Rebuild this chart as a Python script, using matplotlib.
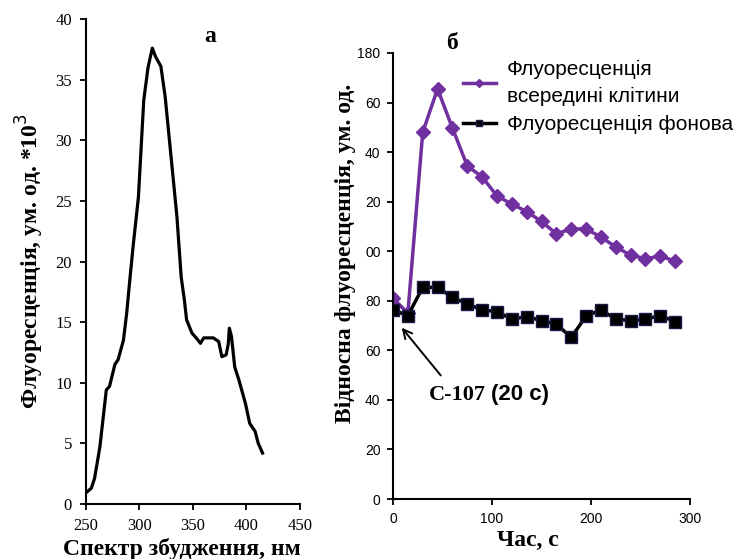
import matplotlib
matplotlib.use("Agg")
import matplotlib.pyplot as plt

# spectrum (panel a)
wl = [251, 255, 258, 263, 269, 272, 277, 280, 285, 288, 291, 294, 299, 304, 308, 312,
      315, 320, 324, 328, 335, 339, 342, 344, 349, 353, 357, 360, 365, 369, 374, 377,
      381, 383, 384, 386, 389, 393, 399, 403, 408, 411, 415]
intens = [1.0, 1.3, 2.1, 4.7, 9.4, 9.7, 11.5, 11.9, 13.5, 15.7, 18.5, 21.2, 25.3, 33.3, 36.0, 37.6,
          36.9, 36.1, 33.6, 30.0, 23.7, 18.7, 16.8, 15.2, 14.1, 13.7, 13.25, 13.7, 13.7, 13.7, 13.4, 12.15,
          12.3, 13.2, 14.5, 13.8, 11.3, 10.2, 8.3, 6.65, 6.0, 5.0, 4.2]

# time course (panel b)
t = [0, 15, 30, 45, 60, 75, 90, 105, 120, 135, 150, 165, 180, 195, 210, 225, 240, 255, 270, 285]
inside = [81, 75, 148, 165.5, 149.7, 134.4, 130, 122.3, 119, 116, 112, 107, 109, 109, 105.7,
          101.7, 98.4, 97, 98, 96]
backgr = [76.3, 74, 85.4, 85.4, 81.4, 78.7, 76.3, 75.6, 72.6, 73.6, 72, 70.6, 65.2, 73.8, 76.3,
          72.6, 72, 72.6, 74, 71.6]
yticks_b = [0, 20, 40, 60, 80, 100, 120, 140, 160, 180]
ytick_labels_b = ["0", "20", "40", "60", "80", "00", "20", "40", "60", "180"]

serif = "Liberation Serif"
sans = "Liberation Sans"
purple = "#7030a0"

fig = plt.figure(figsize=(7.36, 5.59), dpi=100)

# ---- panel a
ax1 = fig.add_axes([0.1168, 0.0984, 0.2908, 0.8676])
ax1.plot(wl, intens, color="black", lw=2.3)
ax1.set_xlim(250, 450)
ax1.set_ylim(0, 40)
ax1.set_xticks([250, 300, 350, 400, 450])
ax1.set_yticks(range(0, 41, 5))
for s in ["top", "right"]:
    ax1.spines[s].set_visible(False)
for s in ["left", "bottom"]:
    ax1.spines[s].set_linewidth(1.5)
ax1.tick_params(direction="out", length=4, width=1.3, labelsize=12, pad=6)
for lab in ax1.get_xticklabels() + ax1.get_yticklabels():
    lab.set_fontfamily(serif)
ax1.set_xlabel("Спектр збудження, нм", fontfamily=serif, fontweight="bold", fontsize=17, labelpad=3)
ax1.xaxis.label.set_x(0.45)
ax1.set_ylabel("Флуоресценція, ум. од. *10$^3$", fontfamily=serif, fontweight="bold", fontsize=17,
               labelpad=7)
ax1.text(0.58, 0.985, "а", transform=ax1.transAxes, fontfamily=serif, fontweight="bold",
         fontsize=17, ha="center", va="top")

# ---- panel b
ax2 = fig.add_axes([0.534, 0.1073, 0.4035, 0.798])
ax2.plot(t, inside, color=purple, lw=2.5, marker="D", ms=7, mfc=purple, mec=purple,
         label="Флуоресценція\nвсередині клітини", zorder=2)
ax2.plot(t, backgr, color="black", lw=2.5, marker="s", ms=9, mfc="black", mec="#1a1a4a",
         label="Флуоресценція фонова", zorder=3)
ax2.set_xlim(0, 300)
ax2.set_ylim(0, 180)
ax2.set_xticks([0, 100, 200, 300])
ax2.set_yticks(yticks_b)
ax2.set_yticklabels(ytick_labels_b)
for s in ["top", "right"]:
    ax2.spines[s].set_visible(False)
for s in ["left", "bottom"]:
    ax2.spines[s].set_linewidth(1.5)
ax2.tick_params(direction="out", length=4, width=1.3, labelsize=10, pad=5)
for lab in ax2.get_xticklabels() + ax2.get_yticklabels():
    lab.set_fontfamily(sans)
ax2.set_xlabel("Час, с", fontfamily=serif, fontweight="bold", fontsize=17, labelpad=3)
ax2.xaxis.label.set_x(0.455)
ax2.set_ylabel("Відносна флуоресценція, ум. од.", fontfamily=serif, fontweight="bold", fontsize=17,
               labelpad=1)
ax2.yaxis.label.set_y(0.55)
ax2.text(0.2, 1.045, "б", transform=ax2.transAxes, fontfamily=serif, fontweight="bold",
         fontsize=17, ha="center", va="top")

leg = ax2.legend(loc="upper left", bbox_to_anchor=(0.235, 0.985), frameon=False,
                 prop={"family": sans, "size": 15}, handlelength=1.6, handletextpad=0.5,
                 borderpad=0, labelspacing=0.45, borderaxespad=0)
for txt in leg.get_texts():
    txt.set_linespacing(1.55)
leg.legend_handles[0].set_markersize(4)
leg.legend_handles[1].set_markersize(5)

ax2.annotate("", xy=(7, 70), xytext=(50, 49),
             arrowprops=dict(arrowstyle="->", color="black", lw=1.4, mutation_scale=16))
ax2.text(36, 42, "С-107", fontfamily=serif, fontweight="bold", fontsize=16, ha="left", va="center")
ax2.text(99, 42, "(20 с)", fontfamily=sans, fontweight="bold", fontsize=16, ha="left", va="center")

fig.savefig("out.png", dpi=100)
